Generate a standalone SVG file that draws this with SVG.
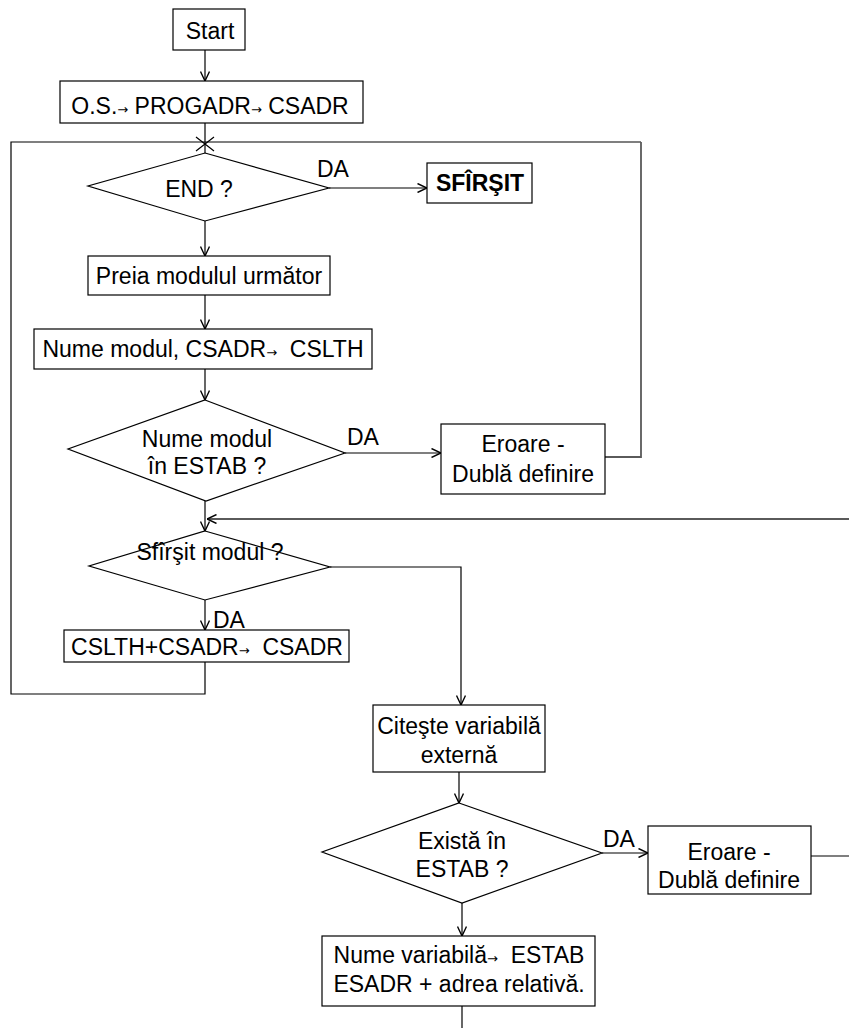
<svg xmlns="http://www.w3.org/2000/svg" width="849" height="1028" viewBox="0 0 849 1028">
<defs>
<marker id="arr" viewBox="0 0 10 10" refX="10" refY="5" markerWidth="10" markerHeight="10" markerUnits="userSpaceOnUse" orient="auto">
<path d="M0.5,0.5 L10,5 L0.5,9.5" fill="none" stroke="#000" stroke-width="1.4"/>
</marker>
</defs>
<style>
.b{fill:#fff;stroke:#000;stroke-width:1.2}
.t{font-family:"Liberation Sans",Arial,sans-serif;font-size:23px;fill:#000;text-anchor:middle}
.l{font-family:"Liberation Sans",Arial,sans-serif;font-size:23px;fill:#000}
.a{font-family:"DejaVu Sans",sans-serif;font-size:13px}
.c{fill:none;stroke:#000;stroke-width:1.2}
.g{fill:none;stroke:#5a5a5a;stroke-width:1.8}
</style>
<rect width="849" height="1028" fill="#fff"/>
<g id="connectors">
<line class="c" x1="205" y1="50" x2="205" y2="81" marker-end="url(#arr)"/>
<line class="c" x1="205" y1="123" x2="205" y2="153"/>
<path class="c" d="M196,137 L214,151 M214,137 L196,151"/>
<path class="c" d="M205,662 V694 H11 V142 H641"/>
<path class="g" d="M641,142 V457 H605"/>
<line class="c" x1="329" y1="188" x2="427" y2="188" marker-end="url(#arr)"/>
<line class="c" x1="205" y1="220" x2="205" y2="256" marker-end="url(#arr)"/>
<line class="c" x1="205" y1="295" x2="205" y2="329" marker-end="url(#arr)"/>
<line class="c" x1="205" y1="369" x2="205" y2="400" marker-end="url(#arr)"/>
<line class="c" x1="345" y1="453" x2="441" y2="453" marker-end="url(#arr)"/>
<line class="c" x1="205" y1="501" x2="205" y2="531" marker-end="url(#arr)"/>
<line class="g" x1="849" y1="519" x2="207" y2="519" marker-end="url(#arr)"/>
<line class="c" x1="205" y1="600" x2="205" y2="630" marker-end="url(#arr)"/>
<path class="c" d="M330,567 H461 V705" marker-end="url(#arr)"/>
<line class="c" x1="459" y1="772" x2="459" y2="803" marker-end="url(#arr)"/>
<line class="c" x1="602" y1="853" x2="648" y2="853" marker-end="url(#arr)"/>
<line class="c" x1="811" y1="856" x2="849" y2="856"/>
<line class="c" x1="462" y1="903" x2="462" y2="936" marker-end="url(#arr)"/>
<line class="c" x1="462" y1="1006" x2="462" y2="1028"/>
</g>
<g id="start">
<rect class="b" x="173" y="9" width="72" height="41"/>
<text class="t" x="210" y="39">Start</text>
</g>
<g id="init">
<rect class="b" x="60" y="81" width="303" height="42"/>
<text class="t" x="210" y="114">O.S.<tspan class="a">→</tspan> PROGADR<tspan class="a">→</tspan> CSADR</text>
</g>
<g id="end-q">
<polygon class="b" points="205,153 329,188 205,221 88,186"/>
<text class="t" x="199" y="197">END ?</text>
<text class="l" x="317" y="177">DA</text>
</g>
<g id="sfarsit">
<rect class="b" x="427" y="163" width="105" height="40"/>
<text class="t" x="480" y="191" font-weight="bold">SFÎRŞIT</text>
</g>
<g id="preia">
<rect class="b" x="88" y="256" width="242" height="39"/>
<text class="t" x="209" y="284">Preia modulul următor</text>
</g>
<g id="nume-modul">
<rect class="b" x="34" y="329" width="338" height="40"/>
<text class="t" x="203" y="357" xml:space="preserve">Nume modul, CSADR<tspan class="a">→</tspan>  CSLTH</text>
</g>
<g id="in-estab-q">
<polygon class="b" points="205,400 345,453 206,501 68,449"/>
<text class="t" x="207" y="447">Nume modul</text>
<text class="t" x="207" y="474">în ESTAB ?</text>
<text class="l" x="347" y="445">DA</text>
</g>
<g id="eroare1">
<rect class="b" x="441" y="424" width="164" height="70"/>
<text class="t" x="523" y="452">Eroare -</text>
<text class="t" x="523" y="482">Dublă definire</text>
</g>
<g id="sfarsit-modul-q">
<polygon class="b" points="205,531 330,567 205,600 89,566"/>
<text class="t" x="210" y="560">Sfîrşit modul ?</text>
<text class="l" x="213" y="628">DA</text>
</g>
<g id="cslth">
<rect class="b" x="64" y="630" width="285" height="32"/>
<text class="t" x="207" y="655" xml:space="preserve">CSLTH+CSADR<tspan class="a">→</tspan>  CSADR</text>
</g>
<g id="citeste">
<rect class="b" x="373" y="705" width="172" height="67"/>
<text class="t" x="459" y="734">Citeşte variabilă</text>
<text class="t" x="459" y="763">externă</text>
</g>
<g id="exista-q">
<polygon class="b" points="459,803 602,853 462,903 322,852"/>
<text class="t" x="462" y="849">Există în</text>
<text class="t" x="462" y="877">ESTAB ?</text>
<text class="l" x="603" y="847">DA</text>
</g>
<g id="eroare2">
<rect class="b" x="648" y="826" width="163" height="68"/>
<text class="t" x="729" y="860">Eroare -</text>
<text class="t" x="729" y="888">Dublă definire</text>
</g>
<g id="nume-var">
<rect class="b" x="322" y="936" width="273" height="70"/>
<text class="t" x="459" y="963" xml:space="preserve">Nume variabilă<tspan class="a">→</tspan>  ESTAB</text>
<text class="t" x="459" y="992">ESADR + adrea relativă.</text>
</g>
</svg>
